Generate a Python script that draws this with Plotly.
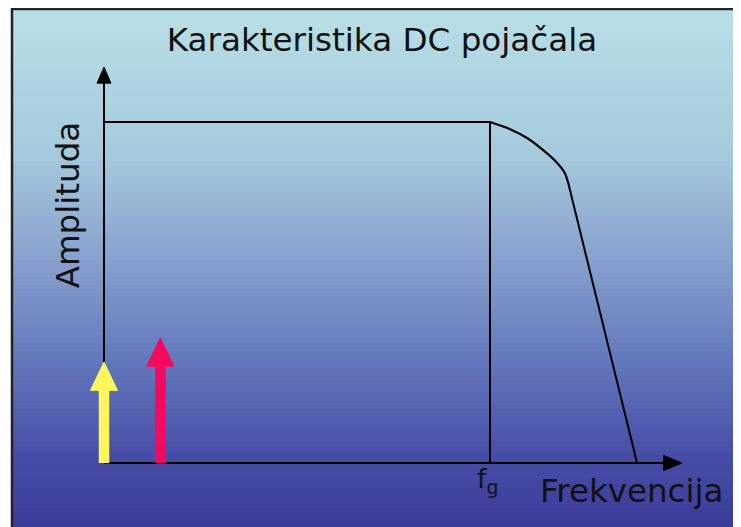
import numpy as np
import plotly.graph_objects as go

# frequency / amplitude characteristic (fg = 1, max amplitude = 1)
curve_freq = [0.0, 1.0, 1.052, 1.096, 1.137, 1.174, 1.194, 1.202, 1.207, 1.381]
curve_amp = [1.0, 1.0, 0.979, 0.953, 0.918, 0.880, 0.850, 0.824, 0.801, 0.0]
fg = 1.0

# input signals drawn as arrows
signal_freq = [0.0, 0.146]
signal_amp = [0.296, 0.367]
signal_colors = ['#fbf65c', '#f5095f']

# axis arrow tips
x_axis_end = 1.497
y_axis_end = 1.161

title_text = 'Karakteristika DC pojačala'
x_label = 'Frekvencija'
y_label = 'Amplituda'
fg_label = 'f<sub>g</sub>'

W, H = 741, 527
OFF = 8  # page body margin around the plot div
FONT = 'DejaVu Sans'


def px(p):
    return (p - OFF) / W


def py(p):
    return 1 - (p - OFF) / H


# background gradient stops (fraction from top, rgb)
grad_pos = [0.0, 0.27, 0.46, 0.65, 0.84, 1.0]
grad_rgb = [(184, 224, 229), (166, 202, 221), (137, 162, 206),
            (101, 121, 189), (70, 76, 165), (55, 56, 150)]

fig = go.Figure()

shapes = []
n_steps = 130
top0 = py(8)
for i in range(n_steps):
    t0 = i / n_steps
    t1 = (i + 1) / n_steps
    tm = (t0 + t1) / 2
    r = np.interp(tm, grad_pos, [c[0] for c in grad_rgb])
    g = np.interp(tm, grad_pos, [c[1] for c in grad_rgb])
    b = np.interp(tm, grad_pos, [c[2] for c in grad_rgb])
    y_hi = top0 - t0 * (top0 + 0.02)
    y_lo = top0 - t1 * (top0 + 0.02) - 0.003
    shapes.append(dict(type='rect', xref='paper', yref='paper', layer='below',
                       x0=px(12), x1=1.02, y0=y_lo, y1=y_hi,
                       line=dict(width=0), fillcolor='rgb({:.0f},{:.0f},{:.0f})'.format(r, g, b)))
# panel border
shapes.append(dict(type='rect', xref='paper', yref='paper', layer='above',
                   x0=px(12), x1=1.05, y0=-0.05, y1=py(9),
                   line=dict(color='#222', width=2.5), fillcolor='rgba(0,0,0,0)'))

# axes with arrows
ax_w = 2
fig.add_trace(go.Scatter(x=[0, x_axis_end - 0.04], y=[0, 0], mode='lines',
                         line=dict(color='black', width=ax_w)))
fig.add_trace(go.Scatter(x=[0, 0], y=[0, y_axis_end - 0.04], mode='lines',
                         line=dict(color='black', width=ax_w)))
hx, hy = 0.047, 0.022
fig.add_trace(go.Scatter(x=[x_axis_end - hx, x_axis_end, x_axis_end - hx, x_axis_end - hx],
                         y=[hy, 0, -hy, hy], mode='lines', fill='toself',
                         fillcolor='black', line=dict(color='black', width=1)))
vx, vy = 0.018, 0.047
fig.add_trace(go.Scatter(x=[-vx, 0, vx, -vx],
                         y=[y_axis_end - vy, y_axis_end, y_axis_end - vy, y_axis_end - vy],
                         mode='lines', fill='toself',
                         fillcolor='black', line=dict(color='black', width=1)))

# characteristic: flat band, rounded knee, straight roll-off
fig.add_trace(go.Scatter(x=curve_freq[:2], y=curve_amp[:2], mode='lines',
                         line=dict(color='black', width=2)))
fig.add_trace(go.Scatter(x=curve_freq[1:-1], y=curve_amp[1:-1], mode='lines',
                         line=dict(color='black', width=2.2, shape='spline', smoothing=0.6)))
fig.add_trace(go.Scatter(x=curve_freq[-2:], y=curve_amp[-2:], mode='lines',
                         line=dict(color='black', width=2)))
fig.add_trace(go.Scatter(x=[fg, fg], y=[0, 1.0], mode='lines',
                         line=dict(color='black', width=2)))

# signal arrows
head_w, head_h = 0.035, 0.083
for f, a, c in zip(signal_freq, signal_amp, signal_colors):
    fig.add_trace(go.Scatter(x=[f, f], y=[0, a - head_h + 0.005], mode='lines',
                             line=dict(color=c, width=10.5)))
    fig.add_trace(go.Scatter(x=[f - head_w, f + head_w, f, f - head_w],
                             y=[a - head_h, a - head_h, a, a - head_h],
                             mode='lines', fill='toself', fillcolor=c,
                             line=dict(color=c, width=1)))

annotations = [
    dict(x=1.124, y=-0.083, xref='x', yref='y', text=x_label, showarrow=False,
         xanchor='left', yanchor='middle', font=dict(family=FONT, size=32.5, color='#111')),
    dict(x=-0.094, y=0.755, xref='x', yref='y', text=y_label, showarrow=False,
         textangle=-90, xanchor='center', yanchor='middle',
         font=dict(family=FONT, size=32.5, color='#111')),
    dict(x=0.962, y=-0.052, xref='x', yref='y', text=fg_label, showarrow=False,
         xanchor='left', yanchor='middle', font=dict(family=FONT, size=27, color='#111')),
]

fig.update_layout(
    width=W, height=H,
    margin=dict(l=0, r=0, t=0, b=0),
    paper_bgcolor='white', plot_bgcolor='rgba(0,0,0,0)',
    showlegend=False,
    title=dict(text=title_text, x=px(382), xanchor='center', y=py(40), yanchor='middle',
               font=dict(family=FONT, size=32.6, color='#111')),
    xaxis=dict(range=[(OFF - 104) / 386, (OFF + W - 104) / 386], visible=False, fixedrange=True),
    yaxis=dict(range=[(463 - OFF - H) / 341, (463 - OFF) / 341], visible=False, fixedrange=True),
    shapes=shapes,
    annotations=annotations,
)

fig.write_html('out.html')
